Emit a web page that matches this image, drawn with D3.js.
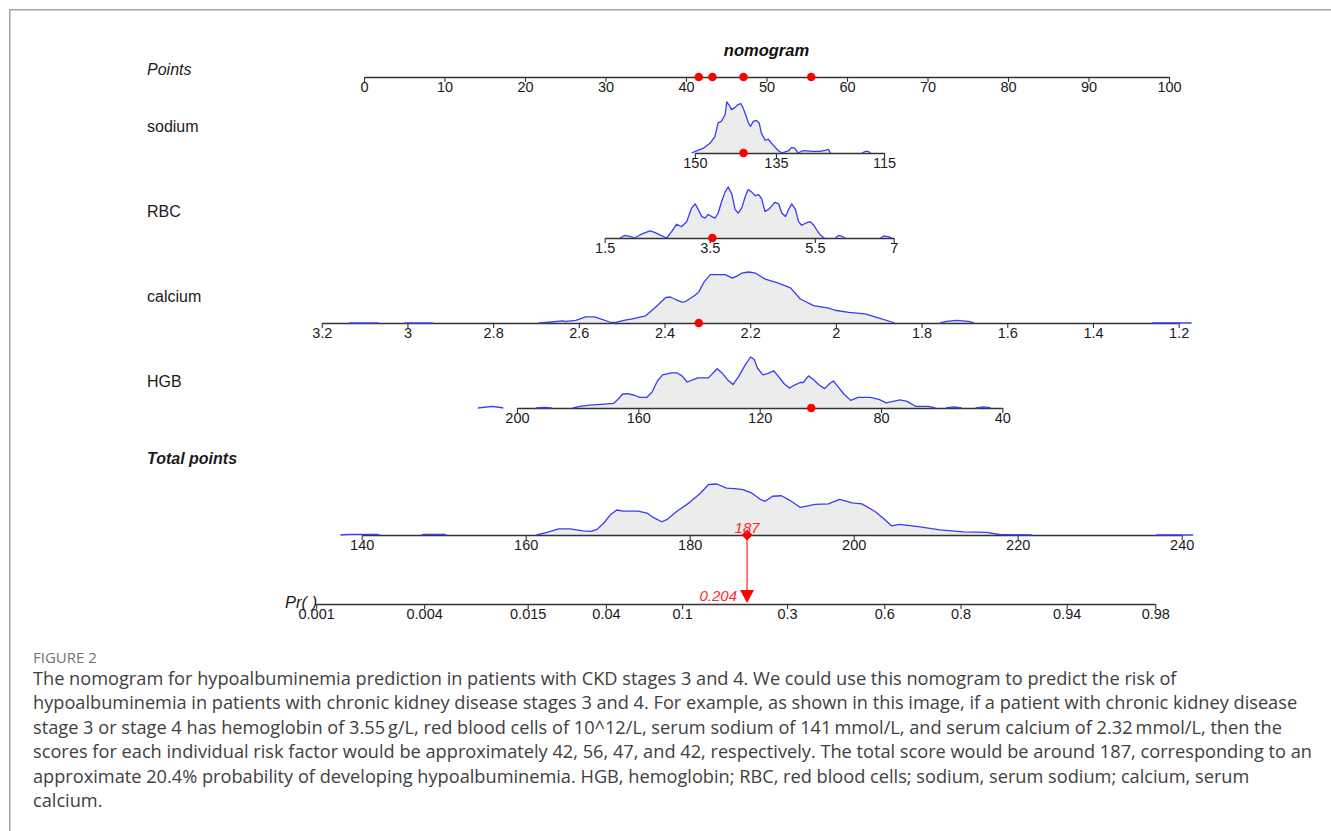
<!DOCTYPE html>
<html><head><meta charset="utf-8">
<script src="https://cdn.jsdelivr.net/npm/d3@7"></script>
<style>
html,body{margin:0;padding:0;background:#fff;}
svg{display:block;}
</style></head><body>
<svg id="chart" width="1331" height="831"></svg>
<script>
// ---------------- DATA ----------------
const pointsTicks = [0,10,20,30,40,50,60,70,80,90,100];
const variableNames = ["sodium","RBC","calcium","HGB"];
const sodiumTicks = [150,135,115];
const rbcTicks = [1.5,3.5,5.5,7];
const calciumTicks = [3.2,3,2.8,2.6,2.4,2.2,2,1.8,1.6,1.4,1.2];
const hgbTicks = [200,160,120,80,40];
const totalTicks = [140,160,180,200,220,240];
const prTicks = [0.001,0.004,0.015,0.04,0.1,0.3,0.6,0.8,0.94,0.98];
// value -> points endpoints of each predictor
const sodiumPoints = [[150,41.1],[115,64.6]];
const rbcPoints = [[1.5,29.9],[7,65.8]];
const calciumPoints = [[3.2,-5.25],[1.2,101.2]];
const hgbPoints = [[200,19.0],[40,79.3]];
// patient example
const patientValues = [141,3.55,2.32,103];
const patientTotal = 187;
const patientProb = 0.204;
// linear predictor: logit(p) = lpIntercept + lpSlope * totalPoints
const lpSlope = 0.10553;
const lpIntercept = -21.095;
// densities: segments of [value, relative density]
const sodiumDensity = [
 [[150.6,0],[149.7,0.04],[148.5,0.09],[147.2,0.19],[146.3,0.32],[145.7,0.59],[145.1,0.62],[144.4,0.75],[144.1,1.0],[143.6,0.93],[143.2,0.85],[142.6,0.89],[142.0,0.95],[141.5,0.97],[141.1,0.89],[140.6,0.75],[140.1,0.59],[139.7,0.52],[139.2,0.62],[138.6,0.64],[138.1,0.59],[137.7,0.39],[137.0,0.25],[136.4,0.27],[135.8,0.19],[135.2,0.12],[134.6,0.05],[133.9,0],[133.3,0.02],[132.7,0.04],[132.1,0.11],[131.5,0.09],[130.9,0],[130.2,0.04],[129.3,0.04],[128.1,0.03],[126.9,0.03],[125.9,0.05],[125.3,0.07],[124.9,0]],
 [[119.1,0],[118.5,0.03],[117.9,0.03],[117.5,0]]
];
const rbcDensity = [
 [[1.79,0],[1.88,0.05],[1.98,0.03],[2.07,0],[2.17,0.06],[2.26,0.10],[2.36,0.14],[2.45,0.11],[2.55,0.06],[2.68,0],[2.77,0.12],[2.87,0.27],[2.96,0.22],[3.06,0.32],[3.15,0.58],[3.22,0.67],[3.28,0.56],[3.35,0.42],[3.41,0.39],[3.47,0.46],[3.54,0.42],[3.60,0.39],[3.66,0.49],[3.73,0.73],[3.79,0.90],[3.85,1.0],[3.92,0.86],[3.98,0.56],[4.04,0.49],[4.11,0.59],[4.17,0.80],[4.23,0.95],[4.30,0.90],[4.36,0.83],[4.43,0.85],[4.49,0.76],[4.55,0.52],[4.62,0.56],[4.68,0.63],[4.74,0.70],[4.81,0.67],[4.87,0.49],[4.94,0.42],[5.00,0.56],[5.06,0.67],[5.13,0.56],[5.19,0.32],[5.25,0.25],[5.32,0.29],[5.41,0.32],[5.48,0.25],[5.54,0.15],[5.60,0.06],[5.68,0]],
 [[5.89,0],[5.95,0.05],[6.02,0.03],[6.08,0]],
 [[6.75,0],[6.81,0.04],[6.91,0.02],[6.97,0]]
];
const calciumDensity = [
 [[3.136,0],[3.067,0]],
 [[3.007,0],[2.939,0]],
 [[2.694,0],[2.677,0.01],[2.638,0.04],[2.630,0.03],[2.607,0.05],[2.584,0.12],[2.564,0.12],[2.549,0.08],[2.525,0.01],[2.514,0.01],[2.495,0.05],[2.475,0.08],[2.444,0.14],[2.421,0.31],[2.397,0.50],[2.386,0.51],[2.374,0.46],[2.359,0.41],[2.351,0.42],[2.328,0.55],[2.320,0.61],[2.308,0.80],[2.293,0.95],[2.258,0.95],[2.242,0.88],[2.231,0.92],[2.219,0.98],[2.211,0.99],[2.203,1.0],[2.188,0.98],[2.165,0.86],[2.134,0.78],[2.106,0.69],[2.083,0.47],[2.052,0.34],[2.017,0.29],[2.002,0.25],[1.970,0.21],[1.932,0.18],[1.901,0.10],[1.862,0]],
 [[1.757,0],[1.742,0.03],[1.718,0.05],[1.691,0.03],[1.677,0]],
 [[1.262,0],[1.200,0],[1.170,0]]
];
const hgbDensity = [
 [[212.9,0],[208.2,0.03],[205.4,0.01],[204.5,0]],
 [[193.8,0],[191,0.01],[188.5,0]],
 [[181.6,0],[179.2,0.03],[176.9,0.05],[172.3,0.07],[168.2,0.09],[166.5,0.18],[165.3,0.27],[163.6,0.28],[161.3,0.25],[159.5,0.21],[157.2,0.21],[155.5,0.31],[153.7,0.53],[152.0,0.65],[149.1,0.69],[147.3,0.69],[145.6,0.63],[143.9,0.51],[142.1,0.55],[140.4,0.59],[136.9,0.59],[134.0,0.77],[132.3,0.68],[130.5,0.55],[128.8,0.46],[127.0,0.61],[124.7,0.85],[123.0,1.0],[121.8,0.95],[120.7,0.78],[118.9,0.65],[117.2,0.68],[115.4,0.73],[113.7,0.61],[112.0,0.48],[110.2,0.39],[108.5,0.45],[106.7,0.50],[105.6,0.50],[103.9,0.63],[102.1,0.55],[100.4,0.45],[98.6,0.38],[96.9,0.48],[95.7,0.53],[94.6,0.45],[92.3,0.28],[90.0,0.15],[87.6,0.21],[83.6,0.21],[80.7,0.17],[78.3,0.10],[76.0,0.13],[73.7,0.16],[71.4,0.13],[68.5,0.03],[64.4,0.03],[62.1,0]],
 [[58.6,0],[56.1,0.02],[53.4,0]],
 [[48.8,0],[46.1,0.02],[43.8,0]]
];
const totalDensity = [
 [[137.4,0],[138.5,0.01],[141.8,0.01],[142.2,0]],
 [[147.3,0],[147.6,0.01],[150.0,0.01],[150.3,0]],
 [[161.3,0],[162.6,0.05],[164.0,0.12],[165.4,0.12],[167.0,0.08],[168.0,0.07],[168.7,0.11],[169.5,0.23],[170.3,0.39],[171.1,0.49],[171.9,0.47],[173.7,0.47],[174.8,0.43],[175.6,0.34],[176.6,0.26],[177.2,0.30],[178.4,0.46],[180.0,0.64],[181.3,0.82],[182.3,0.99],[183.3,1.0],[184.5,0.92],[185.5,0.91],[186.5,0.89],[187.6,0.82],[188.6,0.70],[189.2,0.66],[190.1,0.76],[191.2,0.77],[192.2,0.68],[193.5,0.54],[195.3,0.60],[196.9,0.61],[198.3,0.70],[199.8,0.63],[201.0,0.61],[202.6,0.46],[203.6,0.33],[204.6,0.18],[205.6,0.21],[208.1,0.16],[210.5,0.10],[213.4,0.06],[216.2,0.05],[217.8,0.01],[221.7,0]],
 [[236.9,0],[240.2,0],[241.4,0]]
];
const captionLabel = "FIGURE 2";
const captionLines = [
 "The nomogram for hypoalbuminemia prediction in patients with CKD stages 3 and 4. We could use this nomogram to predict the risk of",
 "hypoalbuminemia in patients with chronic kidney disease stages 3 and 4. For example, as shown in this image, if a patient with chronic kidney disease",
 "stage 3 or stage 4 has hemoglobin of 3.55\u2009g/L, red blood cells of 10^12/L, serum sodium of 141\u2009mmol/L, and serum calcium of 2.32\u2009mmol/L, then the",
 "scores for each individual risk factor would be approximately 42, 56, 47, and 42, respectively. The total score would be around 187, corresponding to an",
 "approximate 20.4% probability of developing hypoalbuminemia. HGB, hemoglobin; RBC, red blood cells; sodium, serum sodium; calcium, serum",
 "calcium."
];

// ---------------- LAYOUT ----------------
const FONT = "'Liberation Sans', Arial, Helvetica, sans-serif";
const CAPFONT = "'Open Sans', 'Noto Sans', sans-serif";
const svg = d3.select("#chart");
const labelX = 147;
const rowY = {points:77, vars:[153,238,323,408], total:535, pr:604};
const densH = 51;
const axisColor = "#333";
const curveColor = "#3b3bf2";
const red = "#ff0000";

// frame
svg.append("path").attr("d","M9.75,831 V9.75 H1331").attr("fill","none")
  .attr("stroke","#a3a3a3").attr("stroke-width",1.5);

const xPoints = d3.scaleLinear().domain([0,100]).range([364,1169]);
const xTotal = d3.scaleLinear().domain([140,240]).range([361.7,1181.7]);
const logit = p => Math.log(p/(1-p));
const lpToTotal = lp => (lp - lpIntercept)/lpSlope;
const xPr = d3.scaleLinear()
  .domain([logit(prTicks[0]), logit(prTicks[prTicks.length-1])])
  .range([xTotal(lpToTotal(logit(prTicks[0]))), xTotal(lpToTotal(logit(prTicks[prTicks.length-1])))]);

function varScale(pts){
  const toPts = d3.scaleLinear().domain([pts[0][0],pts[1][0]]).range([pts[0][1],pts[1][1]]);
  const s = d3.scaleLinear().domain([pts[0][0],pts[1][0]]).range([xPoints(pts[0][1]), xPoints(pts[1][1])]);
  return {x:s, toPts};
}
const varDefs = [
  {scale:varScale(sodiumPoints), ticks:sodiumTicks, dens:sodiumDensity},
  {scale:varScale(rbcPoints), ticks:rbcTicks, dens:rbcDensity},
  {scale:varScale(calciumPoints), ticks:calciumTicks, dens:calciumDensity},
  {scale:varScale(hgbPoints), ticks:hgbTicks, dens:hgbDensity}
];

function drawAxis(scale, ticks, y, fmt){
  const ax = d3.axisBottom(scale).tickValues(ticks).tickSize(5).tickSizeOuter(0).tickPadding(0)
     .tickFormat(fmt || (d => String(d)));
  const g = svg.append("g").attr("transform",`translate(0,${y})`).call(ax);
  g.attr("font-family",null).attr("font-size",null);
  g.select(".domain").attr("stroke",axisColor).attr("stroke-width",1.3);
  g.selectAll(".tick line").attr("stroke",axisColor).attr("stroke-width",1.1);
  g.selectAll(".tick text").attr("fill","#1a1a1a").style("font-family",FONT).style("font-size","14.5px");
  return g;
}
function drawDensity(scale, segs, y){
  const g = svg.append("g");
  const area = d3.area().x(d=>scale(d[0])).y0(y).y1(d=>y - d[1]*densH);
  const line = d3.line().x(d=>scale(d[0])).y(d=>y - d[1]*densH);
  segs.forEach(s=>{
    g.append("path").attr("d",area(s)).attr("fill","#ececec").attr("stroke","none");
  });
  return ()=>segs.forEach(s=>{
    svg.append("path").attr("d",line(s)).attr("fill","none").attr("stroke",curveColor)
      .attr("stroke-width",1.3).attr("stroke-linejoin","round");
  });
}
function label(text, y, style, weight){
  svg.append("text").attr("x",labelX).attr("y",y).text(text)
    .style("font-family",FONT).style("font-size","16px").style("font-style",style||"normal")
    .style("font-weight",weight||"normal").attr("fill","#1a1a1a");
}

// title
svg.append("text").attr("x",(xPoints(0)+xPoints(100))/2).attr("y",56).attr("text-anchor","middle")
  .text("nomogram").style("font-family",FONT).style("font-size","16.5px")
  .style("font-weight","bold").style("font-style","italic").attr("fill","#111");

// Points row
label("Points", rowY.points-2, "italic");
drawAxis(xPoints, pointsTicks, rowY.points);

// variable rows
varDefs.forEach((v,i)=>{
  const y = rowY.vars[i];
  label(variableNames[i], y-21);
  const drawLines = drawDensity(v.scale.x, v.dens, y);
  drawAxis(v.scale.x, v.ticks, y);
  drawLines();
  svg.append("circle").attr("cx",v.scale.x(patientValues[i])).attr("cy",y).attr("r",4.3).attr("fill",red);
});
// patient points on Points axis
svg.selectAll("circle.pts").data(varDefs).enter().append("circle")
  .attr("cx",(v,i)=>xPoints(v.scale.toPts(patientValues[i]))).attr("cy",rowY.points)
  .attr("r",4.3).attr("fill",red);

// Total points row
label("Total points", rowY.total-71, "italic", "bold");
const drawTotLines = drawDensity(xTotal, totalDensity, rowY.total);
drawAxis(xTotal, totalTicks, rowY.total);
drawTotLines();

// Pr row
svg.append("text").attr("x",xPr.range()[0]+1).attr("y",rowY.pr+4).attr("text-anchor","end")
  .text("Pr( )").style("font-family",FONT).style("font-size","16.5px").style("font-style","italic").attr("fill","#1a1a1a");
drawAxis(xPr, prTicks.map(logit), rowY.pr, (d,i)=>String(prTicks[i]));

// patient marker: total -> probability
const tx = xTotal(patientTotal);
const px = xPr(logit(patientProb));
svg.append("line").attr("x1",tx).attr("x2",px).attr("y1",rowY.total).attr("y2",rowY.pr-12)
  .attr("stroke","#ff5050").attr("stroke-width",1.5);
svg.append("path").attr("d",`M${tx},${rowY.total-5.5} L${tx+5.5},${rowY.total} L${tx},${rowY.total+5.5} L${tx-5.5},${rowY.total} Z`)
  .attr("fill",red);
svg.append("path").attr("d",`M${px-7},${rowY.pr-14} L${px+7},${rowY.pr-14} L${px},${rowY.pr-1} Z`).attr("fill",red);
svg.append("text").attr("x",tx).attr("y",rowY.total-2).attr("text-anchor","middle").text(String(patientTotal))
  .style("font-family",FONT).style("font-size","15px").style("font-style","italic").attr("fill","#ff2a2a");
svg.append("text").attr("x",px-10).attr("y",rowY.pr-3).attr("text-anchor","end").text(String(patientProb))
  .style("font-family",FONT).style("font-size","15px").style("font-style","italic").attr("fill","#ff2a2a");

// caption
svg.append("text").attr("x",33).attr("y",663).text(captionLabel)
  .style("font-family",CAPFONT).style("font-size","15px").attr("fill","#737373");
svg.append("g").selectAll("text").data(captionLines).enter().append("text")
  .attr("x",33).attr("y",(d,i)=>685 + i*24.4).text(d=>d)
  .style("font-family",CAPFONT).style("font-size","18.2px").attr("fill","#404040");
</script>
</body></html>
